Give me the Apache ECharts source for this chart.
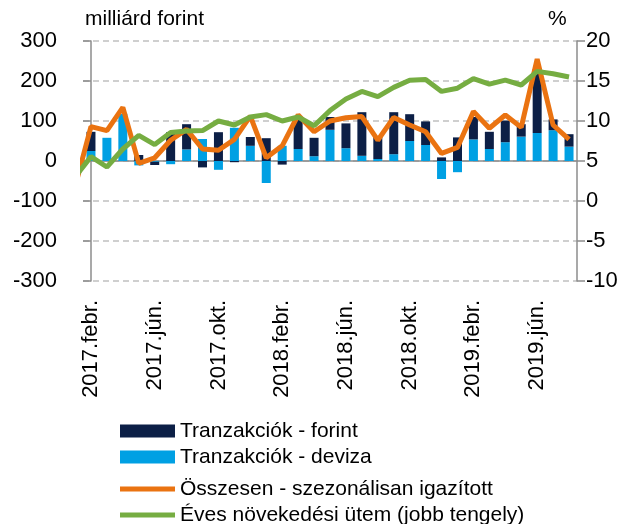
<!DOCTYPE html>
<html>
<head>
<meta charset="utf-8">
<script src="https://cdn.jsdelivr.net/npm/echarts@6/dist/echarts.min.js"></script>
<style>
    html, body { margin: 0; padding: 0; background: #fff; }
    #chart { width: 639px; height: 524px; }
</style>
</head>
<body>
<div id="chart"></div>
<script>
// havi kategóriák (oszlopok)
const categories = [
    '2017.febr.', '2017.márc.', '2017.ápr.', '2017.máj.', '2017.jún.', '2017.júl.', '2017.aug.', '2017.szept.',
    '2017.okt.', '2017.nov.', '2017.dec.', '2018.jan.', '2018.febr.', '2018.márc.', '2018.ápr.', '2018.máj.',
    '2018.jún.', '2018.júl.', '2018.aug.', '2018.szept.', '2018.okt.', '2018.nov.', '2018.dec.', '2019.jan.',
    '2019.febr.', '2019.márc.', '2019.ápr.', '2019.máj.', '2019.jún.', '2019.júl.', '2019.aug.'
];

// milliárd forint
const forint = [48, 0, 0, 15, -8, 72, 63, -16, 72, -3, 22, 57, -9, 73, 46, 32,
    62, 109, 55, 105, 67, 59, 9, 59, 56, 43, 54, 31, 160, 27, 31];
const deviza = [25, 58, 118, -11, -2, -8, 29, 55, -22, 83, 38, -55, 38, 30, 12, 78,
    32, 13, 5, 17, 50, 40, -45, -28, 54, 30, 47, 61, 70, 77, 36];

// a vonalak egy hónappal korábban (2017.jan.) kezdődnek, ez a tengelynél levágódik
const lineStart = -1;
const osszesen = [-64, 86, 76, 134, -6, 8, 52, 79, 30, 27, 54, 112, 8, 38, 115, 73,
    100, 108, 111, 52, 109, 90, 73, 19, 34, 124, 82, 115, 84, 255, 90, 54];
// %, jobb tengely
const eves = [3.0, 5.55, 4.25, 6.5, 8.2, 7.05, 8.55, 8.75, 8.8, 10.0, 9.5, 10.5, 10.8, 10.0, 10.5, 9.4,
    11.3, 12.75, 13.7, 13.05, 14.2, 15.1, 15.2, 13.7, 14.1, 15.3, 14.6, 15.1, 14.5, 16.2, 15.9, 15.5];

const FONT = 'Liberation Sans';
const axisColor = '#8c8c8c';
const toPoints = arr => arr.map((v, i) => [i + lineStart, v]);

const legendBase = {
    orient: 'vertical',
    left: 120,
    padding: 0,
    icon: 'rect',
    itemWidth: 55,
    itemHeight: 13,
    textStyle: { fontSize: 21, color: '#000', fontFamily: FONT, lineHeight: 22 }
};

const chart = echarts.init(document.getElementById('chart'));

chart.setOption({
    animation: false,
    backgroundColor: '#fff',
    textStyle: { fontFamily: FONT },
    grid: { left: 83, right: 62, top: 41, bottom: 243 },
    graphic: [
        {
            type: 'text', left: 85, top: 9,
            style: { text: 'milliárd forint', font: '21px "Liberation Sans"', fill: '#000' }
        },
        {
            type: 'text', left: 548, top: 9,
            style: { text: '%', font: '21px "Liberation Sans"', fill: '#000' }
        }
    ],
    legend: [
        Object.assign({}, legendBase, { top: 420, data: ['Tranzakciók - forint'] }),
        Object.assign({}, legendBase, { top: 446, data: ['Tranzakciók - deviza'] }),
        Object.assign({}, legendBase, { top: 478, itemHeight: 5, data: ['Összesen - szezonálisan igazított'] }),
        Object.assign({}, legendBase, { top: 504, itemHeight: 5, data: ['Éves növekedési ütem (jobb tengely)'] })
    ],
    xAxis: [
        { // tengelyvonal a nullánál
            type: 'category',
            data: categories,
            axisLine: { onZero: true, onZeroAxisIndex: 0, lineStyle: { color: axisColor, width: 1.5 } },
            axisTick: { interval: 3, length: 7, lineStyle: { color: axisColor, width: 1.5 } },
            axisLabel: { show: false },
            splitLine: { show: false }
        },
        { // feliratok alul
            type: 'category',
            data: categories,
            position: 'bottom',
            axisLine: { show: false, onZero: false },
            axisTick: { show: false },
            axisLabel: { interval: 3, rotate: 90, fontSize: 22, color: '#000', margin: 19 },
            splitLine: { show: false }
        },
        { // rejtett tengely a vonalakhoz
            type: 'value',
            min: -0.5,
            max: categories.length - 0.5,
            show: false
        }
    ],
    yAxis: [
        {
            type: 'value',
            min: -300,
            max: 300,
            interval: 100,
            axisLine: { show: true, lineStyle: { color: axisColor, width: 1.5 } },
            axisTick: { show: true, length: 8, lineStyle: { color: axisColor, width: 1.5 } },
            axisLabel: { fontSize: 22, color: '#000', margin: 26 },
            splitLine: { lineStyle: { color: '#c0c0c0', width: 1.5, type: [6, 4] } }
        },
        {
            type: 'value',
            position: 'right',
            min: -10,
            max: 20,
            interval: 5,
            axisLine: { show: true, lineStyle: { color: axisColor, width: 1.5 } },
            axisTick: { show: true, length: 8, lineStyle: { color: axisColor, width: 1.5 } },
            axisLabel: { fontSize: 22, color: '#000', margin: 9 },
            splitLine: { show: false }
        }
    ],
    series: [
        {
            name: 'Tranzakciók - deviza',
            type: 'bar',
            stack: 'tr',
            barWidth: 9,
            data: deviza,
            itemStyle: { color: '#00a0e3' }
        },
        {
            name: 'Tranzakciók - forint',
            type: 'bar',
            stack: 'tr',
            barWidth: 9,
            data: forint,
            itemStyle: { color: '#0c1f46' }
        },
        {
            name: 'Összesen - szezonálisan igazított',
            type: 'line',
            xAxisIndex: 2,
            yAxisIndex: 0,
            data: toPoints(osszesen),
            symbol: 'none',
            z: 3,
            lineStyle: { color: '#ea7311', width: 5 },
            itemStyle: { color: '#ea7311' }
        },
        {
            name: 'Éves növekedési ütem (jobb tengely)',
            type: 'line',
            xAxisIndex: 2,
            yAxisIndex: 1,
            data: toPoints(eves),
            symbol: 'none',
            z: 4,
            lineStyle: { color: '#76ad42', width: 5 },
            itemStyle: { color: '#76ad42' }
        }
    ]
});
</script>
</body>
</html>
